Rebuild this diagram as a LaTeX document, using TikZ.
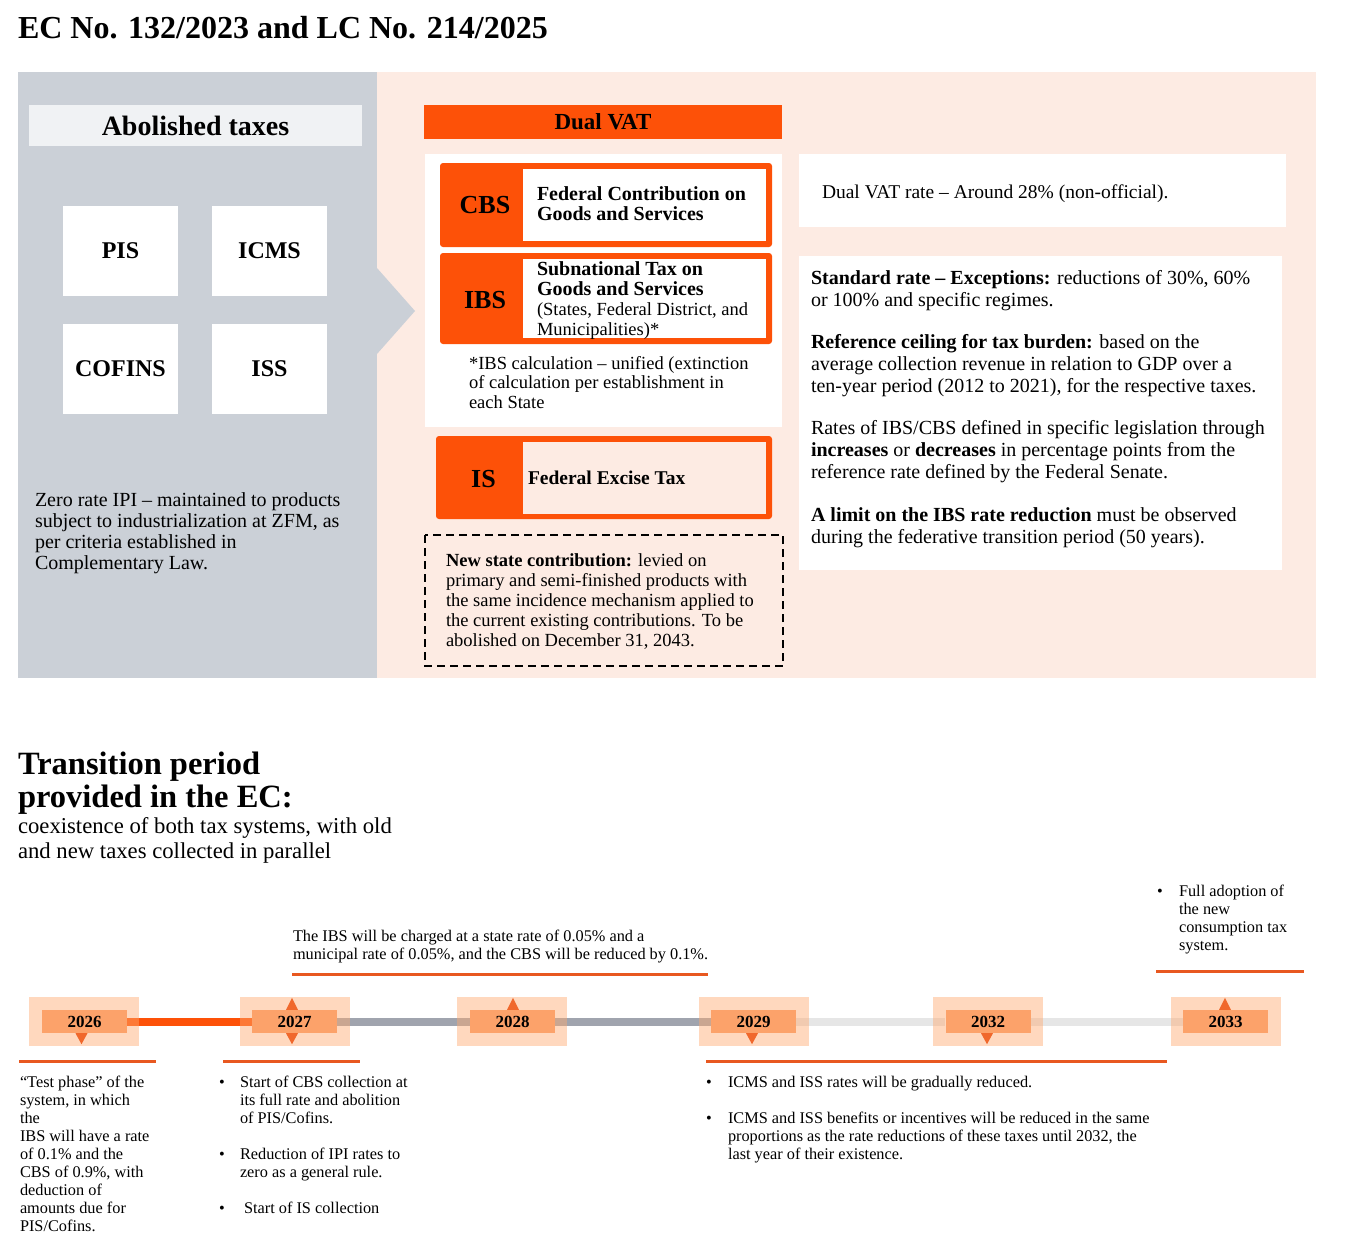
\documentclass[tikz,border=0pt]{standalone}
\usepackage{fontspec}
\setmainfont{Liberation Serif}
\usetikzlibrary{calc}
\definecolor{panelgray}{RGB}{203,208,215}
\definecolor{peach}{RGB}{253,235,227}
\definecolor{hdrgray}{RGB}{240,242,244}
\definecolor{pwcorange}{RGB}{253,81,8}
\definecolor{yrouter}{RGB}{255,170,111}
\definecolor{yrinner}{RGB}{252,162,106}
\definecolor{tri}{RGB}{240,104,44}
\definecolor{barcol}{RGB}{232,88,32}
\definecolor{tlgray}{RGB}{160,164,174}
\definecolor{tllight}{RGB}{230,230,230}
\pgfdeclarelayer{bg}
\pgfsetlayers{bg,main}
\newcommand{\tb}[3]{{\fontsize{#1}{#2}\selectfont\parbox[t]{900pt}{\raggedright #3}}}
\newcommand{\tdown}[2]{\fill[tri] ($(#1.south)+(#2-6,0)$) -- ($(#1.south)+(#2+6,0)$) -- ($(#1.south)+(#2,11)$) -- cycle;}
\newcommand{\tup}[2]{\fill[tri] ($(#1.north)+(#2-6,0)$) -- ($(#1.north)+(#2+6,0)$) -- ($(#1.north)+(#2,-12)$) -- cycle;}
\begin{document}
\begin{tikzpicture}[x=1pt,y=-1pt,
  txt/.style={anchor=base west, inner sep=0pt, outer sep=0pt},
  taxbox/.style={fill=white, minimum width=115pt, minimum height=90pt, inner sep=0pt, font=\fontsize{24}{28}\selectfont\bfseries},
  codelbl/.style={inner sep=0pt, font=\fontsize{26}{30}\selectfont\bfseries},
  yrout/.style={fill=yrouter, fill opacity=0.45, minimum width=110pt, minimum height=49pt, inner sep=0pt},
  yrin/.style={fill=yrinner, minimum width=85pt, minimum height=23pt, inner sep=0pt, font=\fontsize{17}{20}\selectfont\bfseries},
  underbar/.style={draw=barcol, line width=3pt},
  tlline/.style={line width=8pt}]
\useasboundingbox (0,0) rectangle (1346,1256);
\begin{pgfonlayer}{bg}
\fill[white] (0,0) rectangle (1346,1256);
\end{pgfonlayer}

% title
\node[txt] (title) at (18,38) {\fontsize{32}{36}\selectfont\bfseries EC No. 132/2023 and LC No. 214/2025};

% panels
\fill[panelgray] (18,72) rectangle (377,678);
\fill[peach] (377,72) rectangle (1316,678);
\fill[panelgray] (377,268) -- (415,311) -- (377,354) -- cycle;

% abolished taxes
\node[fill=hdrgray, minimum width=333pt, minimum height=41pt, inner sep=0pt, font=\fontsize{28}{32}\selectfont\bfseries] (abh) at (195.5,125.5) {Abolished taxes};
\node[taxbox] (pis) at (120.5,251) {PIS};
\node[taxbox] (icms) at (269.5,251) {ICMS};
\node[taxbox] (cofins) at (120.5,369) {COFINS};
\node[taxbox] (iss) at (269.5,369) {ISS};
\node[txt] (zero) at (35,506) {\tb{20}{21}{Zero rate IPI – maintained to products\\subject to industrialization at ZFM, as\\per criteria established in\\Complementary Law.}};

% dual VAT
\node[fill=pwcorange, minimum width=358pt, minimum height=34pt, inner sep=0pt, font=\fontsize{23}{27}\selectfont\bfseries] (dvat) at (603,122) {Dual VAT};
\fill[white] (425,154) rectangle (782,427);

\fill[pwcorange, rounded corners=3pt] (440,163) rectangle (772,247);
\fill[white] (523,169) rectangle (766,241);
\node[codelbl] (cbs) at (485,205) {CBS};
\node[txt] (cbstxt) at (537,200) {\tb{20}{20}{\bfseries Federal Contribution on\\Goods and Services}};

\fill[pwcorange, rounded corners=3pt] (440,253) rectangle (772,344);
\fill[white] (523,259) rectangle (766,338);
\node[codelbl] (ibs) at (485,300) {IBS};
\node[txt] (ibstxt) at (537,275) {\tb{18.5}{20}{{\fontsize{20}{20}\selectfont\bfseries Subnational Tax on\\Goods and Services}\\(States, Federal District, and\\Municipalities)*}};
\node[txt] (foot) at (469,369) {\tb{18.5}{19.7}{*IBS calculation – unified (extinction\\of calculation per establishment in\\each State}};

\fill[pwcorange, rounded corners=3pt] (436,436) rectangle (772,519);
\fill[peach] (523,442) rectangle (766,514);
\node[codelbl] (is) at (483.5,479) {IS};
\node[txt] (istxt) at (528,484) {\fontsize{19.5}{22}\selectfont\bfseries Federal Excise Tax};

\draw[dash pattern=on 8pt off 5pt, line width=1.8pt] (425,535) rectangle (783,666);
\node[txt] (newst) at (446,566) {\tb{18.5}{20}{\textbf{New state contribution:} levied on\\primary and semi-finished products with\\the same incidence mechanism applied to\\the current existing contributions. To be\\abolished on December 31, 2043.}};

% right boxes
\fill[white] (799,154) rectangle (1286,227);
\node[txt] (rate) at (822,198) {\tb{19.5}{22}{Dual VAT rate – Around 28\% (non-official).}};
\fill[white] (799,256) rectangle (1282,570);
\node[txt] (p1) at (811,284) {\tb{20}{22}{\textbf{Standard rate – Exceptions:} reductions of 30\%, 60\%\\or 100\% and specific regimes.}};
\node[txt] (p2) at (811,348) {\tb{20}{22}{\textbf{Reference ceiling for tax burden:} based on the\\average collection revenue in relation to GDP over a\\ten-year period (2012 to 2021), for the respective taxes.}};
\node[txt] (p3) at (811,434) {\tb{20}{22}{Rates of IBS/CBS defined in specific legislation through\\\textbf{increases} or \textbf{decreases} in percentage points from the\\reference rate defined by the Federal Senate.}};
\node[txt] (p4) at (811,521) {\tb{20}{22}{\textbf{A limit on the IBS rate reduction} must be observed\\during the federative transition period (50 years).}};

% transition heading
\node[txt] (th) at (18,774) {\tb{32.5}{33}{\bfseries Transition period\\provided in the EC:}};
\node[txt] (ts) at (18,833) {\tb{22.7}{25}{coexistence of both tax systems, with old\\and new taxes collected in parallel}};

% timeline
\node[yrout] (o2026) at (84,1021.5) {};
\node[yrout] (o2027) at (295,1021.5) {};
\node[yrout] (o2028) at (512,1021.5) {};
\node[yrout] (o2029) at (753.5,1021.5) {};
\node[yrout] (o2032) at (988,1021.5) {};
\node[yrout] (o2033) at (1225.5,1021.5) {};
\node[yrin] (i2026) at (84.5,1021.5) {2026};
\node[yrin] (i2027) at (294.5,1021.5) {2027};
\node[yrin] (i2028) at (512.5,1021.5) {2028};
\node[yrin] (i2029) at (753.5,1021.5) {2029};
\node[yrin] (i2032) at (988,1021.5) {2032};
\node[yrin] (i2033) at (1225.5,1021.5) {2033};
\begin{pgfonlayer}{bg}
\draw[tlline, pwcorange] (i2026.east) -- (i2027.west);
\draw[tlline, tlgray] (i2027.east) -- (i2028.west);
\draw[tlline, tlgray] (i2028.east) -- (i2029.west);
\draw[tlline, tllight] (i2029.east) -- (i2032.west);
\draw[tlline, tllight] (i2032.east) -- (i2033.west);
\end{pgfonlayer}
\tdown{i2026}{-3}
\tup{i2027}{-2.5}
\tdown{i2027}{-2.5}
\tup{i2028}{0.5}
\tdown{i2029}{-1.5}
\tdown{i2032}{-1}
\tup{i2033}{-0.5}

% bars
\draw[underbar] (19,1061) -- (156,1061);
\draw[underbar] (223,1061) -- (360,1061);
\draw[underbar] (292,974) -- (708,974);
\draw[underbar] (706,1061) -- (1167,1061);
\draw[underbar] (1156,971) -- (1304,971);

% timeline texts
\node[txt] (t2026) at (20,1087) {\tb{16.3}{18}{“Test phase” of the\\system, in which\\the\\IBS will have a rate\\of 0.1\% and the\\CBS of 0.9\%, with\\deduction of\\amounts due for\\PIS/Cofins.}};

\node[txt] (b1) at (219,1087) {\fontsize{16.3}{18}\selectfont •};
\node[txt] (t2027a) at (240,1087) {\tb{16.3}{18}{Start of CBS collection at\\its full rate and abolition\\of PIS/Cofins.}};
\node[txt] (b2) at (219,1159) {\fontsize{16.3}{18}\selectfont •};
\node[txt] (t2027b) at (240,1159) {\tb{16.3}{18}{Reduction of IPI rates to\\zero as a general rule.}};
\node[txt] (b3) at (219,1213) {\fontsize{16.3}{18}\selectfont •};
\node[txt] (t2027c) at (244,1213) {\tb{16.3}{18}{Start of IS collection}};

\node[txt] (t2028) at (293,941) {\tb{16.3}{18}{The IBS will be charged at a state rate of 0.05\% and a\\municipal rate of 0.05\%, and the CBS will be reduced by 0.1\%.}};

\node[txt] (b4) at (706,1087) {\fontsize{16.3}{18}\selectfont •};
\node[txt] (t2029a) at (728,1087) {\tb{16.3}{18}{ICMS and ISS rates will be gradually reduced.}};
\node[txt] (b5) at (706,1123) {\fontsize{16.3}{18}\selectfont •};
\node[txt] (t2029b) at (728,1123) {\tb{16.3}{18}{ICMS and ISS benefits or incentives will be reduced in the same\\proportions as the rate reductions of these taxes until 2032, the\\last year of their existence.}};

\node[txt] (b6) at (1157,896) {\fontsize{16.3}{18}\selectfont •};
\node[txt] (t2033) at (1179,896) {\tb{16.3}{18}{Full adoption of\\the new\\consumption tax\\system.}};
\end{tikzpicture}
\end{document}
